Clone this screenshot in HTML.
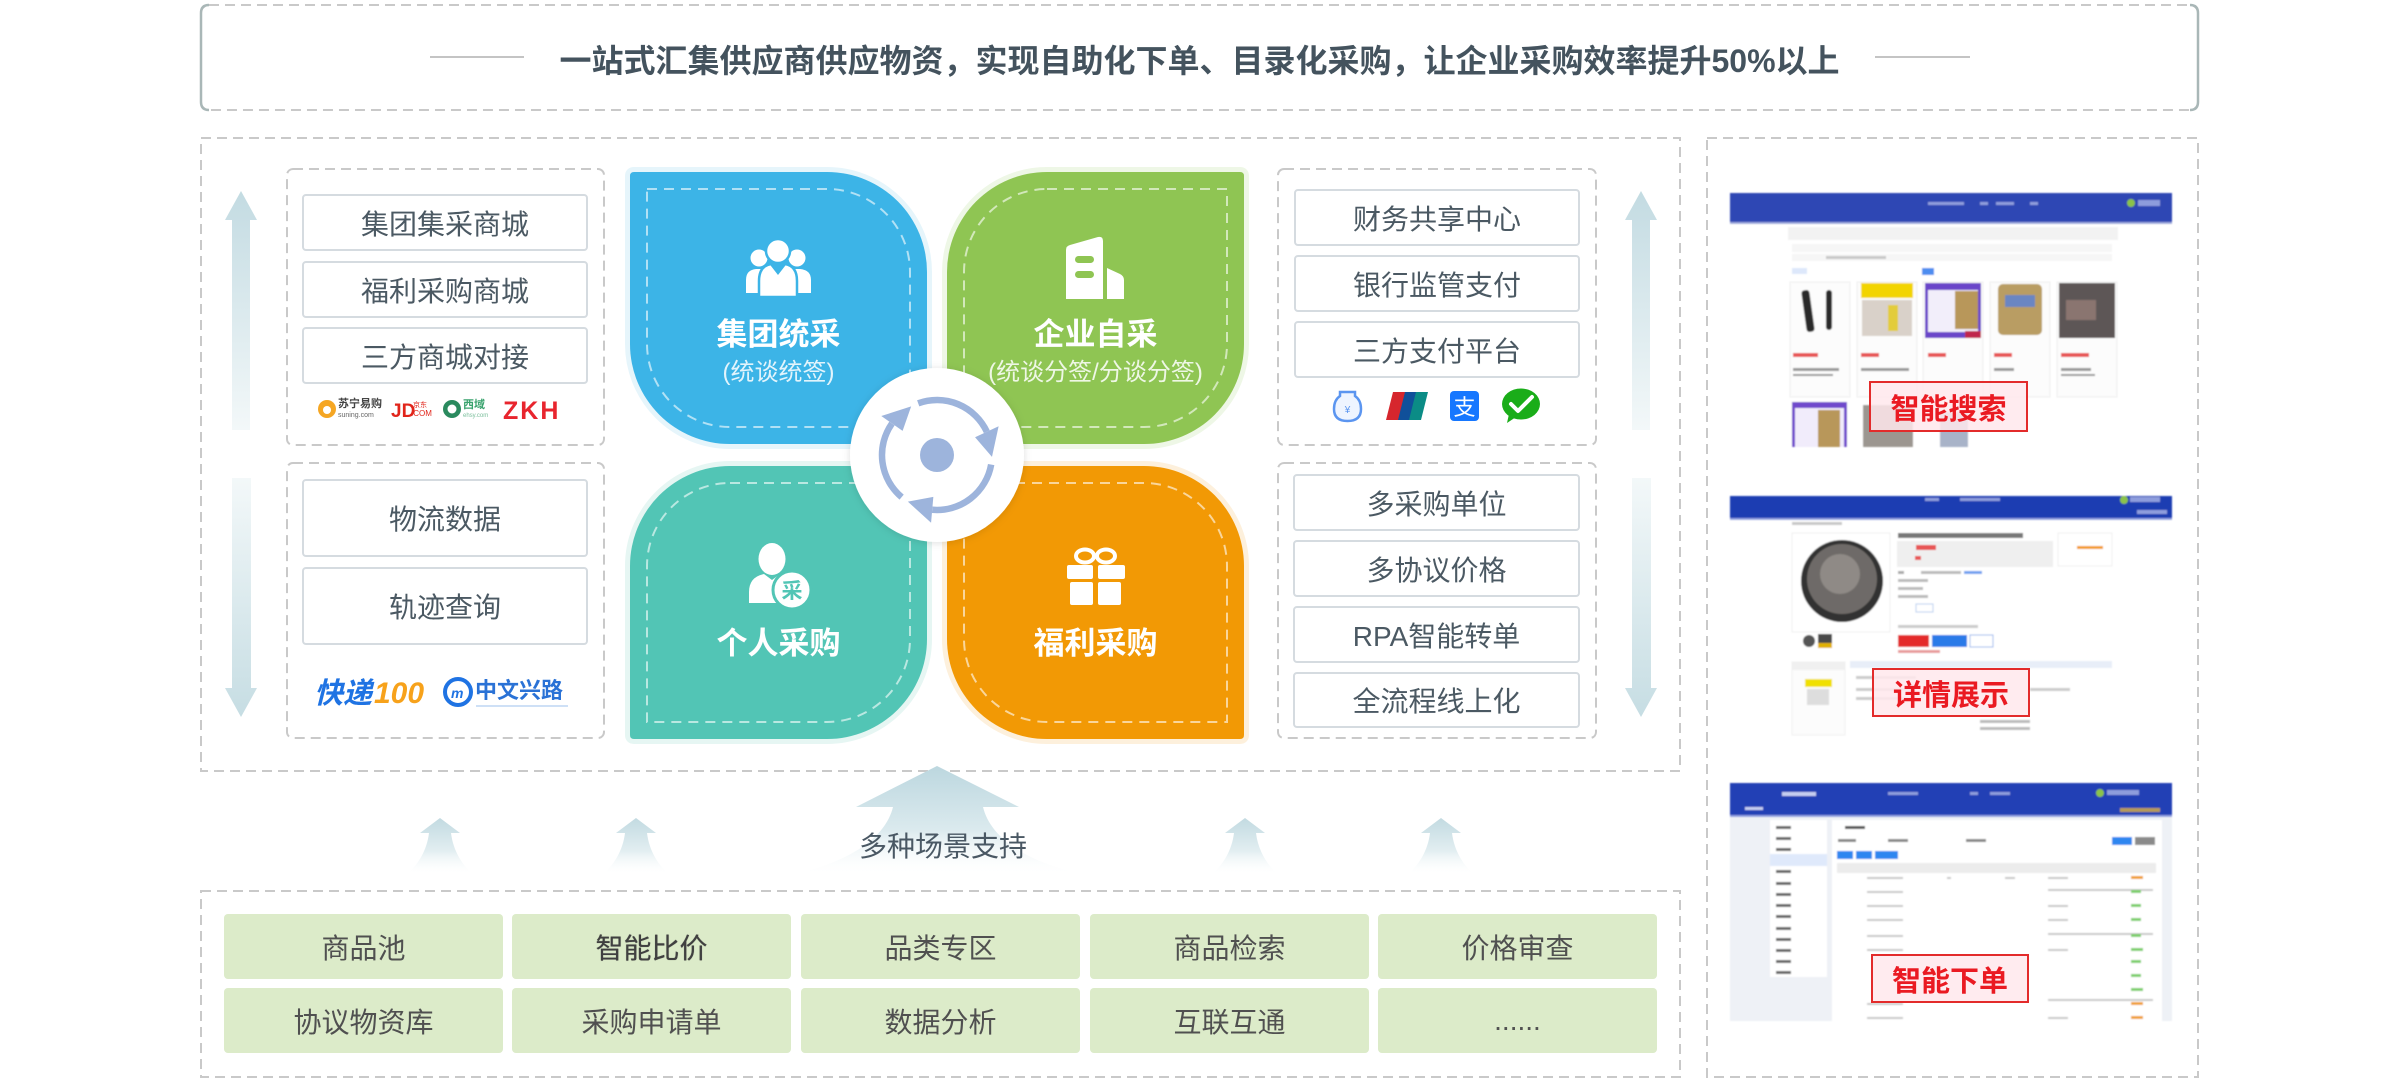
<!DOCTYPE html>
<html>
<head>
<meta charset="utf-8">
<style>
  html,body{margin:0;padding:0;background:#fff;}
  body{width:2400px;height:1082px;position:relative;overflow:hidden;font-family:"Liberation Sans","Noto Sans CJK SC",sans-serif;}
  .abs{position:absolute;}
  .it{position:absolute;background:#fff;border:2px solid #d5dbe0;border-radius:4px;box-sizing:border-box;display:flex;align-items:center;justify-content:center;font-size:28px;color:#4b5963;white-space:nowrap;}
  .cell{position:absolute;background:#dcebc9;border-radius:4px;display:flex;align-items:center;justify-content:center;font-size:28px;color:#505050;width:279px;height:65px;white-space:nowrap;}
  .pt{position:absolute;text-align:center;color:#fff;white-space:nowrap;}
  .pt.t{font-size:31px;font-weight:bold;height:40px;line-height:40px;}
  .pt.s{font-size:24px;height:30px;line-height:30px;color:rgba(255,255,255,0.85);}
  .lab{position:absolute;box-sizing:border-box;border:2.5px solid #e32b2b;background:rgba(255,232,236,0.85);color:#ea1a22;font-weight:bold;font-size:29px;display:flex;align-items:center;justify-content:center;letter-spacing:0px;}
</style>
</head>
<body>

<svg class="abs" style="left:0;top:0" width="2400" height="1082" viewBox="0 0 2400 1082">
  <defs>
    <linearGradient id="gUp" x1="0" y1="0" x2="0" y2="1">
      <stop offset="0" stop-color="#c3dbe2"/>
      <stop offset="1" stop-color="#f3f8f9"/>
    </linearGradient>
    <linearGradient id="gDown" x1="0" y1="0" x2="0" y2="1">
      <stop offset="0" stop-color="#f3f8f9"/>
      <stop offset="1" stop-color="#c6dde3"/>
    </linearGradient>
    <linearGradient id="gBig" x1="0" y1="0" x2="0" y2="1">
      <stop offset="0" stop-color="#bcd7df"/>
      <stop offset="0.6" stop-color="#dbeaee"/>
      <stop offset="1" stop-color="#ffffff" stop-opacity="0.2"/>
    </linearGradient>
    <linearGradient id="gSm" x1="0" y1="0" x2="0" y2="1">
      <stop offset="0" stop-color="#c2dae1"/>
      <stop offset="0.6" stop-color="#e2eef1"/>
      <stop offset="1" stop-color="#ffffff" stop-opacity="0.2"/>
    </linearGradient>
    <filter id="sh" x="-30%" y="-30%" width="160%" height="160%">
      <feDropShadow dx="0" dy="1" stdDeviation="4" flood-color="#000" flood-opacity="0.13"/>
    </filter>
    <filter id="bl"><feGaussianBlur stdDeviation="0.7"/></filter>
  </defs>

  <!-- top title box -->
  <rect x="201" y="5" width="1997" height="105" rx="8" fill="none" stroke="#c9c9c9" stroke-width="2" stroke-dasharray="10 6"/>
  <path d="M209 5 Q201 5 201 13 V102 Q201 110 209 110" fill="none" stroke="#a9b7b7" stroke-width="2.5"/>
  <path d="M2190 5 Q2198 5 2198 13 V102 Q2198 110 2190 110" fill="none" stroke="#a9b7b7" stroke-width="2.5"/>
  <line x1="430" y1="57" x2="524" y2="57" stroke="#c4c4c4" stroke-width="2"/>
  <line x1="1875" y1="57" x2="1970" y2="57" stroke="#c4c4c4" stroke-width="2"/>

  <!-- main boxes -->
  <rect x="201" y="138" width="1479" height="633" fill="none" stroke="#c9c9c9" stroke-width="2" stroke-dasharray="10 6"/>
  <rect x="1707" y="138" width="491" height="939" fill="none" stroke="#c9c9c9" stroke-width="2" stroke-dasharray="10 6"/>
  <rect x="201" y="891" width="1479" height="186" fill="none" stroke="#c9c9c9" stroke-width="2" stroke-dasharray="10 6"/>

  <!-- sub boxes -->
  <rect x="287" y="169" width="317" height="276" rx="6" fill="none" stroke="#c9c9c9" stroke-width="2" stroke-dasharray="10 6"/>
  <rect x="287" y="463" width="317" height="275" rx="6" fill="none" stroke="#c9c9c9" stroke-width="2" stroke-dasharray="10 6"/>
  <rect x="1278" y="169" width="318" height="276" rx="6" fill="none" stroke="#c9c9c9" stroke-width="2" stroke-dasharray="10 6"/>
  <rect x="1278" y="463" width="318" height="275" rx="6" fill="none" stroke="#c9c9c9" stroke-width="2" stroke-dasharray="10 6"/>

  <!-- vertical arrows -->
  <polygon points="241,191 257,220 250,220 250,430 232,430 232,220 225,220" fill="url(#gUp)"/>
  <polygon points="232,478 251,478 251,688 257,688 241,717 225,688 232,688" fill="url(#gDown)"/>
  <polygon points="1641,191 1657,220 1650,220 1650,430 1632,430 1632,220 1625,220" fill="url(#gUp)"/>
  <polygon points="1632,478 1651,478 1651,688 1657,688 1641,717 1625,688 1632,688" fill="url(#gDown)"/>

  <!-- petals -->
  <g paint-order="stroke" stroke-width="10">
    <path d="M634 172 H827 A100 100 0 0 1 927 272 V444 H730 A100 100 0 0 1 630 344 V176 Q630 172 634 172 Z" fill="#3cb4e7" stroke="#e6f5fb"/>
    <path d="M1047 172 H1240 Q1244 172 1244 176 V344 A100 100 0 0 1 1144 444 H947 V272 A100 100 0 0 1 1047 172 Z" fill="#8fc553" stroke="#eef7e6"/>
    <path d="M730 466 H927 V639 A100 100 0 0 1 827 739 H634 Q630 739 630 735 V566 A100 100 0 0 1 730 466 Z" fill="#52c5b5" stroke="#e6f6f3"/>
    <path d="M947 466 H1144 A100 100 0 0 1 1244 566 V735 Q1244 739 1240 739 H1047 A100 100 0 0 1 947 639 Z" fill="#f29905" stroke="#fdf0dc"/>
  </g>
  <g fill="none" stroke="rgba(255,255,255,0.6)" stroke-width="2" stroke-dasharray="10 7">
    <path d="M647 189 H827 A83 83 0 0 1 910 272 V427 H730 A83 83 0 0 1 647 344 Z"/>
    <path d="M1047 189 H1227 V344 A83 83 0 0 1 1144 427 H964 V272 A83 83 0 0 1 1047 189 Z"/>
    <path d="M730 483 H910 V639 A83 83 0 0 1 827 722 H647 V566 A83 83 0 0 1 730 483 Z"/>
    <path d="M964 483 H1144 A83 83 0 0 1 1227 566 V722 H1047 A83 83 0 0 1 964 639 Z"/>
  </g>

  <!-- people icon (blue) -->
  <g fill="#fff">
    <circle cx="759" cy="258" r="8.5"/>
    <path d="M746 293 V280 Q746 270 756 269 L764 269 Q770 271 770 280 V293 Z"/>
    <circle cx="797" cy="258" r="8.5"/>
    <path d="M786 293 V280 Q786 271 792 269 L800 269 Q811 270 811 280 V293 Z"/>
    <path d="M759 297 V281 Q759 266 771 264 L778 273 L785 264 Q797 266 797 281 V297 Z" stroke="#3cb4e7" stroke-width="2.5"/>
    <circle cx="778" cy="251" r="12" stroke="#3cb4e7" stroke-width="2.5"/>
  </g>
  <!-- building icon (green) -->
  <g fill="#fff">
    <path d="M1066 250 Q1066 246 1070 245 L1098 237 Q1103 236 1103 241 V299 H1066 Z"/>
    <path d="M1107 268 L1120 274 Q1124 276 1124 280 V299 H1107 Z"/>
    <rect x="1075" y="256" width="19" height="7" rx="3.5" fill="#8fc553"/>
    <rect x="1075" y="271" width="19" height="7" rx="3.5" fill="#8fc553"/>
  </g>
  <!-- person with badge (teal) -->
  <g fill="#fff">
    <ellipse cx="772" cy="559" rx="13.5" ry="16"/>
    <path d="M749 603 V592 Q749 577 764 574 L772 580 L780 574 Q792 577 793 590 V603 Z"/>
    <circle cx="792" cy="590" r="19" stroke="#52c5b5" stroke-width="3"/>
  </g>
  <text x="792" y="598" font-size="21" font-weight="bold" fill="#52c5b5" text-anchor="middle" font-family="Liberation Sans, Noto Sans CJK SC, sans-serif">采</text>
  <!-- gift icon (orange) -->
  <g fill="#fff">
    <ellipse cx="1085" cy="556" rx="9" ry="6.5" fill="none" stroke="#fff" stroke-width="4"/>
    <ellipse cx="1106" cy="556" rx="9" ry="6.5" fill="none" stroke="#fff" stroke-width="4"/>
    <rect x="1067" y="565" width="26" height="14" rx="2"/>
    <rect x="1098" y="565" width="27" height="14" rx="2"/>
    <rect x="1070" y="582" width="23" height="23" rx="2"/>
    <rect x="1098" y="582" width="23" height="23" rx="2"/>
  </g>

  <!-- center circle -->
  <circle cx="937" cy="455" r="87" fill="#fff" filter="url(#sh)"/>
  <g transform="translate(937 455)" fill="#9db4dc">
    <circle r="17"/>
    <g transform="rotate(-110)">
      <path d="M55 0 A55 55 0 0 1 4.79 54.79" fill="none" stroke="#9db4dc" stroke-width="6.5"/>
      <polygon points="3.66,41.84 5.93,67.74 -20.6,51.0"/>
    </g>
    <g transform="rotate(10)">
      <path d="M55 0 A55 55 0 0 1 4.79 54.79" fill="none" stroke="#9db4dc" stroke-width="6.5"/>
      <polygon points="3.66,41.84 5.93,67.74 -20.6,51.0"/>
    </g>
    <g transform="rotate(130)">
      <path d="M55 0 A55 55 0 0 1 4.79 54.79" fill="none" stroke="#9db4dc" stroke-width="6.5"/>
      <polygon points="3.66,41.84 5.93,67.74 -20.6,51.0"/>
    </g>
  </g>

  <!-- bottom arrows -->
  <path d="M937 766 L1019 807 L983 807 C991 840 1030 862 1077 873 L799 873 C845 862 885 840 893 807 L856 807 Z" fill="url(#gBig)"/>
  <g fill="url(#gSm)">
    <path d="M440 818 L460 833 L451 833 C453 850 462 865 472 873 L408 873 C418 865 427 850 429 833 L420 833 Z"/>
    <path d="M636 818 L656 833 L647 833 C649 850 658 865 668 873 L604 873 C614 865 623 850 625 833 L616 833 Z"/>
    <path d="M1245 818 L1265 833 L1256 833 C1258 850 1267 865 1277 873 L1213 873 C1223 865 1232 850 1234 833 L1225 833 Z"/>
    <path d="M1441 818 L1461 833 L1452 833 C1454 850 1463 865 1473 873 L1409 873 C1419 865 1428 850 1430 833 L1421 833 Z"/>
  </g>

  <!-- logos left top -->
  <circle cx="327" cy="409" r="9" fill="#f5a623"/>
  <circle cx="327" cy="410" r="4" fill="#fff"/>
  <text x="338" y="407" font-size="11" font-weight="bold" fill="#444" font-family="Noto Sans CJK SC, sans-serif">苏宁易购</text>
  <text x="338" y="417" font-size="7" fill="#666" font-family="Liberation Sans, sans-serif">suning.com</text>
  <text x="391" y="417" font-size="19" font-weight="bold" fill="#e1251b" font-family="Liberation Sans, sans-serif">JD</text>
  <text x="413" y="407" font-size="7" fill="#e1251b" font-family="Noto Sans CJK SC, sans-serif">京东</text>
  <text x="411" y="416" font-size="8" fill="#e1251b" font-family="Liberation Sans, sans-serif">.COM</text>
  <circle cx="452" cy="409" r="9" fill="#2a8a5e"/>
  <circle cx="452" cy="409" r="4.5" fill="#fff"/>
  <text x="463" y="408" font-size="11" font-weight="bold" fill="#3aa36e" font-family="Noto Sans CJK SC, sans-serif">西域</text>
  <text x="463" y="417" font-size="6" fill="#7bbf9c" font-family="Liberation Sans, sans-serif">ehsy.com</text>
  <text x="503" y="419" font-size="25" font-weight="bold" fill="#e8252e" font-family="Liberation Sans, sans-serif" letter-spacing="2">ZKH</text>

  <!-- logistics logos -->
  <text x="314" y="703" font-size="29" font-weight="bold" font-style="italic" fill="#1f73e3" font-family="Noto Sans CJK SC, sans-serif">快递</text>
  <text x="374" y="703" font-size="30" font-weight="bold" font-style="italic" fill="#f7a21b" font-family="Liberation Sans, sans-serif">100</text>
  <circle cx="458" cy="692" r="13" fill="none" stroke="#1f73e3" stroke-width="4"/>
  <text x="451" y="698" font-size="14" font-weight="bold" font-style="italic" fill="#1f73e3" font-family="Liberation Sans, sans-serif">m</text>
  <text x="475" y="698" font-size="22" font-weight="bold" fill="#2a72d6" font-family="Noto Sans CJK SC, sans-serif">中文兴路</text>
  <line x1="476" y1="706" x2="568" y2="706" stroke="#9cc0ee" stroke-width="1"/>

  <!-- payment icons -->
  <path d="M1340 392 H1355 V396 Q1361 400 1361 409 Q1361 421 1347.5 421 Q1334 421 1334 409 Q1334 400 1340 396 Z" fill="#eef4ff" stroke="#5b95f0" stroke-width="2.5"/>
  <text x="1347.5" y="413" font-size="10" fill="#5b95f0" text-anchor="middle" font-family="Liberation Sans, sans-serif">¥</text>
  <polygon points="1393,392 1407,392 1400,420 1386,420" fill="#d6262d"/>
  <polygon points="1405,392 1419,392 1412,420 1398,420" fill="#10509a"/>
  <polygon points="1416,392 1428,392 1421,420 1409,420" fill="#0b8c86"/>
  <rect x="1450" y="391" width="29" height="30" rx="4" fill="#1677ff"/>
  <text x="1464.5" y="415" font-size="22" fill="#fff" text-anchor="middle" font-family="Noto Sans CJK SC, sans-serif">支</text>
  <ellipse cx="1521" cy="404" rx="19" ry="15.5" fill="#1aad19"/>
  <polygon points="1509,414 1507,423 1516,417" fill="#1aad19"/>
  <path d="M1511 404 L1518 411 L1532 397" fill="none" stroke="#fff" stroke-width="4" stroke-linecap="round" stroke-linejoin="round"/>

  <!-- screenshots -->
  <g filter="url(#bl)">
    <!-- shot 1 -->
    <rect x="1730" y="193" width="442" height="254" fill="#fff"/>
    <rect x="1730" y="193" width="442" height="30" fill="#2f47b4"/>
    <rect x="1730" y="222" width="442" height="2" fill="#9ba8dc"/>
    <rect x="1928" y="202" width="36" height="3" fill="#8e9ddc"/>
    <rect x="1980" y="202" width="8" height="3" fill="#8e9ddc"/>
    <rect x="1996" y="202" width="18" height="3" fill="#8e9ddc"/>
    <rect x="2030" y="202" width="8" height="3" fill="#8e9ddc"/>
    <circle cx="2131" cy="203" r="4" fill="#8bc34a"/>
    <rect x="2138" y="200" width="22" height="6" fill="#8e9ddc"/>
    <rect x="1788" y="227" width="330" height="13" fill="#f2f2f2"/>
    <rect x="1792" y="244" width="320" height="8" fill="#f6f6f6"/>
    <rect x="1792" y="254" width="320" height="7" fill="#f6f6f6"/>
    <rect x="1826" y="256" width="60" height="3" fill="#c8c8c8"/>
    <rect x="1792" y="268" width="15" height="6" fill="#dde8fb"/>
    <rect x="1922" y="268" width="12" height="7" fill="#4d8df0"/>
    <rect x="1790" y="282" width="60" height="115" fill="#fcfcfc" stroke="#eee"/>
    <rect x="1857" y="282" width="60" height="115" fill="#fcfcfc" stroke="#eee"/>
    <rect x="1923" y="282" width="60" height="115" fill="#fcfcfc" stroke="#eee"/>
    <rect x="1990" y="282" width="60" height="115" fill="#fcfcfc" stroke="#eee"/>
    <rect x="2057" y="282" width="60" height="115" fill="#fcfcfc" stroke="#eee"/>
    <rect x="1804" y="290" width="8" height="42" rx="3" fill="#2a2a2a" transform="rotate(-8 1808 311)"/>
    <rect x="1826" y="290" width="6" height="40" rx="3" fill="#2a2a2a"/>
    <rect x="1861" y="283" width="52" height="15" fill="#f2d400"/>
    <rect x="1862" y="300" width="50" height="36" fill="#d9d1c9"/>
    <rect x="1888" y="305" width="10" height="26" fill="#e3cc3b"/>
    <rect x="1925" y="283" width="56" height="55" fill="#6a45c9"/>
    <rect x="1928" y="290" width="50" height="42" fill="#f2eefa"/>
    <rect x="1955" y="291" width="23" height="38" fill="#b8975a"/>
    <rect x="1965" y="331" width="16" height="7" fill="#c0254e"/>
    <rect x="1998" y="284" width="44" height="51" rx="5" fill="#b99d63"/>
    <rect x="2005" y="295" width="30" height="12" fill="#6a86c2"/>
    <rect x="2059" y="283" width="56" height="55" fill="#5d5657"/>
    <rect x="2066" y="300" width="30" height="20" fill="#8a7570"/>
    <g fill="#e85454">
      <rect x="1793" y="353" width="25" height="4"/><rect x="1861" y="353" width="18" height="4"/>
      <rect x="1928" y="353" width="18" height="4"/><rect x="1994" y="353" width="18" height="4"/><rect x="2061" y="353" width="28" height="4"/>
    </g>
    <g fill="#999">
      <rect x="1793" y="368" width="46" height="3"/><rect x="1861" y="368" width="48" height="3"/>
      <rect x="1994" y="368" width="20" height="3"/><rect x="2061" y="368" width="30" height="3"/>
      <rect x="1793" y="374" width="40" height="2"/><rect x="2061" y="374" width="34" height="2"/>
    </g>
    <rect x="1792" y="402" width="55" height="45" fill="#7048cc"/>
    <rect x="1795" y="408" width="49" height="39" fill="#f1ecfb"/>
    <rect x="1818" y="410" width="22" height="37" fill="#b8975a"/>
    <rect x="1863" y="405" width="50" height="42" fill="#9c9690"/>
    <rect x="1940" y="412" width="28" height="35" fill="#a8b3c8"/>

    <!-- shot 2 -->
    <rect x="1730" y="496" width="442" height="239" fill="#fff"/>
    <rect x="1730" y="496" width="442" height="24" fill="#1f3eb2"/>
    <rect x="1730" y="518" width="442" height="2" fill="#8e9fe0"/>
    <rect x="1925" y="498" width="14" height="3" fill="#8e9ddc"/>
    <rect x="1960" y="498" width="40" height="3" fill="#8e9ddc"/>
    <circle cx="2124" cy="500" r="4" fill="#8bc34a"/>
    <rect x="2130" y="497" width="30" height="5" fill="#8e9ddc"/>
    <rect x="2137" y="510" width="30" height="4" fill="#8e9ddc"/>
    <rect x="1792" y="522" width="50" height="3" fill="#c8c8c8"/>
    <rect x="1792" y="533" width="98" height="99" fill="#fff" stroke="#f0f0f0"/>
    <circle cx="1842" cy="581" r="41" fill="#333"/>
    <circle cx="1842" cy="579" r="35" fill="#6e6a67"/>
    <circle cx="1840" cy="574" r="20" fill="#8f8a86"/>
    <circle cx="1809" cy="641" r="6" fill="#555"/>
    <rect x="1818" y="634" width="14" height="14" fill="#4a4a4a"/>
    <rect x="1818" y="643" width="14" height="5" fill="#e0b000"/>
    <rect x="1898" y="533" width="125" height="5" fill="#777"/>
    <rect x="1897" y="541" width="156" height="26" fill="#efefef"/>
    <rect x="1916" y="545" width="20" height="5" fill="#e85454"/>
    <rect x="1915" y="556" width="6" height="4" fill="#e85454"/>
    <rect x="2058" y="533" width="54" height="33" fill="#fff" stroke="#f0f0f0"/>
    <rect x="2077" y="546" width="26" height="3" fill="#f39b1f"/>
    <rect x="1898" y="571" width="6" height="3" fill="#aaa"/>
    <rect x="1921" y="571" width="40" height="3" fill="#bbb"/>
    <rect x="1964" y="571" width="18" height="3" fill="#6fa0f0"/>
    <rect x="1898" y="579" width="30" height="3" fill="#bbb"/>
    <rect x="1898" y="587" width="25" height="3" fill="#bbb"/>
    <rect x="1898" y="595" width="30" height="3" fill="#bbb"/>
    <rect x="1916" y="604" width="17" height="8" fill="#fff" stroke="#b9cff0"/>
    <rect x="1898" y="625" width="80" height="3" fill="#ccc"/>
    <rect x="1898" y="635" width="31" height="12" fill="#e42a2a"/>
    <rect x="1932" y="635" width="35" height="12" fill="#2a7ae8"/>
    <rect x="1970" y="635" width="23" height="12" fill="#fff" stroke="#9ab8ee"/>
    <rect x="1898" y="650" width="42" height="3" fill="#e89a9a"/>
    <rect x="1792" y="662" width="53" height="73" fill="#fcfcfc" stroke="#f0f0f0"/>
    <rect x="1792" y="662" width="53" height="8" fill="#f0f0f0"/>
    <rect x="1805" y="679" width="27" height="8" fill="#f0e000"/>
    <rect x="1807" y="689" width="22" height="16" fill="#ddd"/>
    <rect x="1850" y="661" width="262" height="7" fill="#e8eef8"/>
    <rect x="1856" y="676" width="60" height="3" fill="#ccc"/>
    <rect x="1856" y="688" width="60" height="3" fill="#ccc"/>
    <rect x="1856" y="697" width="60" height="3" fill="#ccc"/>
    <rect x="2030" y="688" width="40" height="3" fill="#ccc"/>
    <rect x="1980" y="720" width="50" height="3" fill="#bbb"/>
    <rect x="1980" y="727" width="50" height="3" fill="#bbb"/>

    <!-- shot 3 -->
    <rect x="1730" y="783" width="442" height="238" fill="#eef1f6"/>
    <rect x="1730" y="783" width="442" height="33" fill="#2340b5"/>
    <rect x="1730" y="815" width="442" height="2" fill="#8e9fe0"/>
    <rect x="1782" y="792" width="34" height="4" fill="#c5cdf0"/>
    <rect x="1745" y="807" width="18" height="3" fill="#c5cdf0"/>
    <rect x="1888" y="792" width="30" height="3" fill="#8e9ddc"/>
    <rect x="1970" y="792" width="8" height="3" fill="#8e9ddc"/>
    <rect x="1990" y="792" width="20" height="3" fill="#8e9ddc"/>
    <circle cx="2100" cy="793" r="4" fill="#8bc34a"/>
    <rect x="2107" y="790" width="32" height="5" fill="#8e9ddc"/>
    <rect x="2120" y="808" width="40" height="4" fill="#b59a58"/>
    <rect x="1770" y="820" width="57" height="157" fill="#fff"/>
    <rect x="1770" y="854" width="57" height="12" fill="#dfe9fb"/>
    <g fill="#666">
      <rect x="1776" y="826" width="15" height="3"/><rect x="1776" y="837" width="15" height="3"/><rect x="1776" y="848" width="15" height="3"/>
      <rect x="1776" y="870" width="15" height="3"/><rect x="1776" y="882" width="15" height="3"/><rect x="1776" y="893" width="15" height="3"/>
      <rect x="1776" y="904" width="15" height="3"/><rect x="1776" y="915" width="15" height="3"/><rect x="1776" y="927" width="15" height="3"/>
      <rect x="1776" y="938" width="15" height="3"/><rect x="1776" y="949" width="15" height="3"/><rect x="1776" y="960" width="15" height="3"/>
      <rect x="1776" y="971" width="15" height="3"/>
    </g>
    <rect x="1832" y="820" width="330" height="201" fill="#fff"/>
    <rect x="1845" y="826" width="20" height="3" fill="#555"/>
    <rect x="1838" y="839" width="18" height="3" fill="#888"/>
    <rect x="1888" y="839" width="20" height="3" fill="#888"/>
    <rect x="1966" y="839" width="20" height="3" fill="#888"/>
    <rect x="2112" y="837" width="20" height="8" fill="#2f86f0"/>
    <rect x="2135" y="837" width="20" height="8" fill="#8a8a8a"/>
    <rect x="1837" y="851" width="16" height="8" fill="#2f86f0"/>
    <rect x="1856" y="851" width="16" height="8" fill="#2f86f0"/>
    <rect x="1875" y="851" width="23" height="8" fill="#2f86f0"/>
    <rect x="1837" y="863" width="319" height="10" fill="#ececec"/>
    <g fill="#c8c8c8">
      <rect x="1867" y="877" width="36" height="2"/><rect x="1947" y="877" width="4" height="2"/><rect x="2005" y="877" width="10" height="2"/><rect x="2048" y="877" width="20" height="2"/>
      <rect x="1867" y="891" width="36" height="2"/><rect x="2048" y="889" width="105" height="2"/>
      <rect x="1867" y="905" width="36" height="2"/><rect x="2048" y="905" width="20" height="2"/>
      <rect x="1867" y="919" width="36" height="2"/><rect x="2048" y="919" width="20" height="2"/>
      <rect x="1867" y="935" width="36" height="2"/><rect x="2048" y="933" width="105" height="2"/>
      <rect x="1867" y="949" width="36" height="2"/><rect x="2048" y="949" width="20" height="2"/>
      <rect x="1867" y="1003" width="36" height="2"/><rect x="1867" y="1017" width="36" height="2"/>
      <rect x="2048" y="1017" width="20" height="2"/><rect x="2048" y="999" width="105" height="2"/>
    </g>
    <g fill="#f0a030">
      <rect x="2131" y="876" width="12" height="3"/><rect x="2131" y="1002" width="12" height="3"/><rect x="2131" y="1016" width="12" height="3"/>
    </g>
    <g fill="#7ccf6a">
      <rect x="2131" y="890" width="10" height="3"/><rect x="2131" y="904" width="10" height="3"/><rect x="2131" y="918" width="10" height="3"/>
      <rect x="2131" y="934" width="10" height="3"/><rect x="2131" y="948" width="12" height="3"/><rect x="2131" y="960" width="10" height="3"/>
      <rect x="2131" y="974" width="10" height="3"/><rect x="2131" y="988" width="12" height="3"/>
    </g>
  </g>
</svg>

<!-- title -->
<div class="abs" style="left:200px;top:39px;width:1999px;height:44px;line-height:44px;text-align:center;font-size:32px;font-weight:bold;color:#44535e;white-space:nowrap;">一站式汇集供应商供应物资，实现自助化下单、目录化采购，让企业采购效率提升50%以上</div>

<!-- left items -->
<div class="it" style="left:302px;top:194px;width:286px;height:57px;">集团集采商城</div>
<div class="it" style="left:302px;top:261px;width:286px;height:57px;">福利采购商城</div>
<div class="it" style="left:302px;top:327px;width:286px;height:57px;">三方商城对接</div>
<div class="it" style="left:302px;top:479px;width:286px;height:78px;">物流数据</div>
<div class="it" style="left:302px;top:567px;width:286px;height:78px;">轨迹查询</div>

<!-- right items -->
<div class="it" style="left:1294px;top:189px;width:286px;height:57px;">财务共享中心</div>
<div class="it" style="left:1294px;top:255px;width:286px;height:57px;">银行监管支付</div>
<div class="it" style="left:1294px;top:321px;width:286px;height:57px;">三方支付平台</div>
<div class="it" style="left:1293px;top:474px;width:287px;height:57px;">多采购单位</div>
<div class="it" style="left:1293px;top:540px;width:287px;height:57px;">多协议价格</div>
<div class="it" style="left:1293px;top:606px;width:287px;height:57px;">RPA智能转单</div>
<div class="it" style="left:1293px;top:672px;width:287px;height:56px;">全流程线上化</div>

<!-- petal texts -->
<div class="pt t" style="left:630px;top:315px;width:297px;">集团统采</div>
<div class="pt s" style="left:630px;top:358px;width:297px;">(统谈统签)</div>
<div class="pt t" style="left:947px;top:315px;width:297px;">企业自采</div>
<div class="pt s" style="left:947px;top:358px;width:297px;">(统谈分签/分谈分签)</div>
<div class="pt t" style="left:630px;top:624px;width:297px;">个人采购</div>
<div class="pt t" style="left:947px;top:624px;width:297px;">福利采购</div>

<!-- bottom label -->
<div class="abs" style="left:843px;top:828px;width:200px;height:38px;line-height:38px;text-align:center;font-size:28px;color:#4a5864;white-space:nowrap;">多种场景支持</div>

<!-- bottom cells -->
<div class="cell" style="left:224px;top:914px;">商品池</div>
<div class="cell" style="left:512px;top:914px;color:#404040;text-shadow:0 0 0.6px #404040;">智能比价</div>
<div class="cell" style="left:801px;top:914px;">品类专区</div>
<div class="cell" style="left:1090px;top:914px;">商品检索</div>
<div class="cell" style="left:1378px;top:914px;">价格审查</div>
<div class="cell" style="left:224px;top:988px;">协议物资库</div>
<div class="cell" style="left:512px;top:988px;">采购申请单</div>
<div class="cell" style="left:801px;top:988px;">数据分析</div>
<div class="cell" style="left:1090px;top:988px;">互联互通</div>
<div class="cell" style="left:1378px;top:988px;">......</div>

<!-- screenshot labels -->
<div class="lab" style="left:1869px;top:381px;width:159px;height:51px;">智能搜索</div>
<div class="lab" style="left:1872px;top:668px;width:158px;height:49px;">详情展示</div>
<div class="lab" style="left:1871px;top:954px;width:158px;height:49px;">智能下单</div>

</body>
</html>
